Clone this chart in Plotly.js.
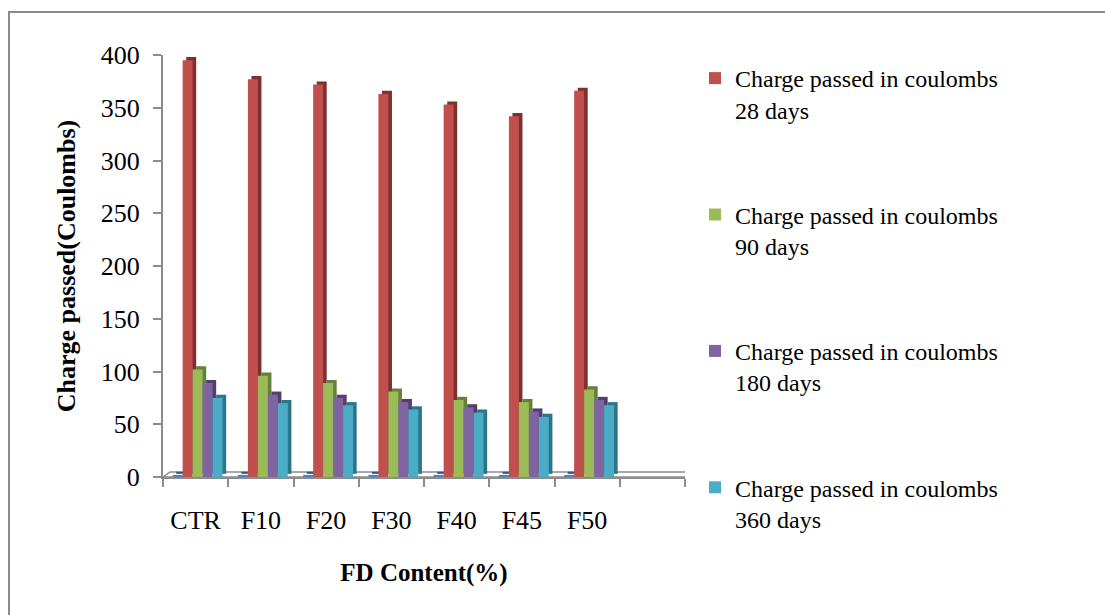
<!DOCTYPE html>
<html>
<head>
<meta charset="utf-8">
<script src="https://cdn.plot.ly/plotly-3.0.1.min.js"></script>
<style>
  html, body { margin: 0; padding: 0; background: #ffffff; }
  #chart { width: 1105px; height: 615px; }
</style>
</head>
<body>
<div id="chart"></div>
<script>
// FD content mixes on the category axis (last slot is left empty)
const categories = ['CTR', 'F10', 'F20', 'F30', 'F40', 'F45', 'F50'];

// Charge passed (coulombs) at each curing age
const days28  = [395, 377, 372, 363, 353, 342, 366];
const days90  = [102, 96, 89, 81, 73, 71, 83];
const days180 = [89, 78, 75, 71, 66, 62, 73];
const days360 = [75, 70, 68, 64, 61, 57, 68];
// near-zero leading series sitting on the floor
const floorSeries = [2, 2, 2, 2, 2, 2, 2];

const seriesNames = [
  'Charge passed in coulombs<br>28 days',
  'Charge passed in coulombs<br>90 days',
  'Charge passed in coulombs<br>180 days',
  'Charge passed in coulombs<br>360 days'
];

const yTicks = [0, 50, 100, 150, 200, 250, 300, 350, 400];

// ---- styling / geometry -------------------------------------------------
const W = 1105, H = 615;
const plotL = 163, plotR = 685, plotT = 55, plotB = 477;
const nSlots = 8;                       // 7 mixes + one empty slot
const barW = 0.153;                     // bar width in category units
const firstOffset = -0.352;             // left edge of first bar in a cluster
const sideShift = 0.055;                // 3-D side face shift (category units)
const depthY = 3;                       // 3-D cap rise (value units)
const font = 'Liberation Serif, Times New Roman, serif';

const xIdx = categories.map((c, i) => i);

const palette = [
  { face: '#4F81BD', side: '#34577F' },
  { face: '#C0504D', side: '#7E302E' },
  { face: '#9BBB59', side: '#65803A' },
  { face: '#8064A2', side: '#52406C' },
  { face: '#4BACC6', side: '#2C7487' }
];

const allSeries = [floorSeries, days28, days90, days180, days360];

const traces = [];
allSeries.forEach((vals, k) => {
  const off = firstOffset + k * barW;
  // darker side / top face drawn first, slightly right and up
  traces.push({
    type: 'bar', x: xIdx, y: vals, base: depthY,
    width: barW, offset: off + sideShift,
    marker: { color: palette[k].side, line: { width: 0 } },
    showlegend: false, hoverinfo: 'skip'
  });
  traces.push({
    type: 'bar', x: xIdx, y: vals,
    width: barW, offset: off,
    name: k === 0 ? 'series' : seriesNames[k - 1],
    legendgroup: 'g' + k,
    marker: { color: palette[k].face, line: { width: 0 } },
    showlegend: k !== 0
  });
});

// pixel -> paper helpers for decorations
const px = v => (v - plotL) / (plotR - plotL);
const py = v => (plotB - v) / (plotB - plotT);

const dxFloor = 7 / ((plotR - plotL) / nSlots);
const dyFloor = 5 * 400 / (plotB - plotT);
const xL = -0.5, xR = nSlots - 0.5;

const shapes = [
  // chart frame
  { type: 'rect', xref: 'paper', yref: 'paper',
    x0: px(9), x1: px(W + 10), y0: py(H + 10), y1: py(12),
    line: { color: '#8c8c8c', width: 2 }, fillcolor: 'rgba(0,0,0,0)', layer: 'below' },
  // floor of the 3-D plot area
  { type: 'path', xref: 'x', yref: 'y', layer: 'below',
    path: `M ${xL},0 L ${xR},0 L ${xR + dxFloor},${dyFloor} L ${xL + dxFloor},${dyFloor} Z`,
    fillcolor: '#ffffff', line: { color: '#8c8c8c', width: 1.5 } }
];

const layout = {
  width: W, height: H,
  margin: { l: plotL, r: W - plotR, t: plotT, b: H - plotB, pad: 0 },
  paper_bgcolor: '#ffffff', plot_bgcolor: 'rgba(0,0,0,0)',
  barmode: 'overlay',
  showlegend: true,
  font: { family: font, color: '#000000', size: 24 },
  xaxis: {
    range: [xL, xR], fixedrange: true,
    tickvals: xIdx, ticktext: categories,
    ticks: '', showgrid: false, zeroline: false,
    showline: true, linecolor: '#8c8c8c', linewidth: 2,
    ticklabelstandoff: 19,
    tickfont: { family: font, size: 26, color: '#000000' },
    minor: { tick0: -0.5, dtick: 1, ticks: 'outside', ticklen: 8,
             tickwidth: 2, tickcolor: '#8c8c8c', showgrid: false },
    title: { text: '<b>FD Content(%)</b>', standoff: 29,
             font: { family: font, size: 25, color: '#000000' } }
  },
  yaxis: {
    range: [0, 400], fixedrange: true,
    tickvals: yTicks, ticks: 'outside', ticklen: 8, tickwidth: 2,
    tickcolor: '#8c8c8c', showgrid: false, zeroline: false,
    showline: true, linecolor: '#8c8c8c', linewidth: 2,
    ticklabelstandoff: 8,
    tickfont: { family: font, size: 26, color: '#000000' },
    title: { text: '<b>Charge passed(Coulombs)</b>', standoff: 18,
             font: { family: font, size: 26, color: '#000000' } }
  },
  legend: {
    x: px(695), y: py(56), xanchor: 'left', yanchor: 'top',
    valign: 'top', tracegroupgap: 71, maxheight: 600,
    font: { family: font, size: 24, color: '#000000' },
    bgcolor: 'rgba(0,0,0,0)', borderwidth: 0
  },
  shapes: shapes
};

Plotly.newPlot('chart', traces, layout, { staticPlot: true, displayModeBar: false });
</script>
</body>
</html>
